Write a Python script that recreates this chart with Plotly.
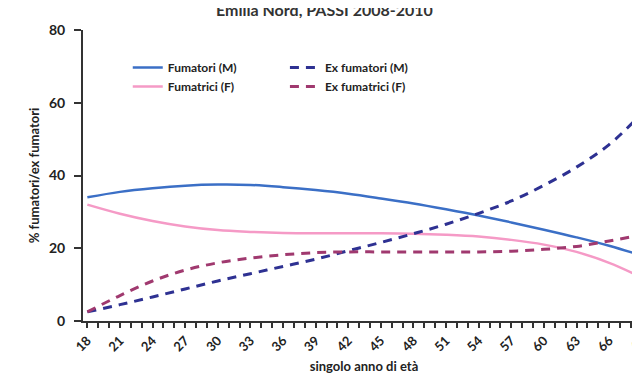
import plotly.graph_objects as go

ages = [18, 21, 24, 27, 30, 33, 36, 39, 42, 45, 48, 51, 54, 57, 60, 63, 66, 69]
fumatori_m = [34, 35.5, 36.5, 37.2, 37.5, 37.4, 36.8, 36, 35, 33.7, 32.3, 30.7, 29, 27.1, 25.1, 23, 20.7, 18]
fumatrici_f = [32, 29.5, 27.5, 26, 25, 24.5, 24.2, 24.1, 24.1, 24.1, 24, 23.7, 23.2, 22.3, 21, 19, 16, 12]
ex_fumatori_m = [2.5, 4.5, 6.6, 8.8, 11, 13, 15, 17, 19.3, 21.6, 24, 26.6, 29.6, 33, 37.3, 42.3, 48.5, 57]
ex_fumatrici_f = [2.5, 7, 11, 14, 16, 17.3, 18.2, 18.8, 19, 19, 19, 19, 19, 19.2, 19.7, 20.5, 22, 23.7]
tick_labels = [str(a) for a in ages]

FONT = "Lato"
fig = go.Figure()
fig.add_trace(go.Scatter(x=ages, y=fumatori_m, name="Fumatori (M)", mode="lines",
                         line=dict(color="#3B6FC6", width=2.5, shape="spline"), legend="legend"))
fig.add_trace(go.Scatter(x=ages, y=fumatrici_f, name="Fumatrici (F)", mode="lines",
                         line=dict(color="#F59AC6", width=2.5, shape="spline"), legend="legend"))
fig.add_trace(go.Scatter(x=ages, y=ex_fumatori_m, name="Ex fumatori (M)", mode="lines",
                         line=dict(color="#2E3192", width=3, shape="spline", dash="9px,7px"), legend="legend2"))
fig.add_trace(go.Scatter(x=ages, y=ex_fumatrici_f, name="Ex fumatrici (F)", mode="lines",
                         line=dict(color="#A0396F", width=3, shape="spline", dash="9px,7px"), legend="legend2"))

legend_common = dict(orientation="v", bgcolor="rgba(0,0,0,0)",
                     font=dict(family=FONT, size=12, color="#222", weight="bold"),
                     xref="paper", yref="paper", xanchor="left", yanchor="top", tracegroupgap=0,
                     itemwidth=30)
fig.update_layout(
    width=640, height=381,
    margin=dict(l=75, r=0, t=22, b=68),
    paper_bgcolor="white", plot_bgcolor="white",
    showlegend=True,
    legend=dict(x=(120 - 75) / 565, y=1 - (45 - 22) / 291, **legend_common),
    legend2=dict(x=(278 - 75) / 565, y=1 - (45 - 22) / 291, **legend_common),
    font=dict(family=FONT, color="#222"),
    annotations=[dict(text="<b>Emilia Nord, PASSI 2008-2010</b>", xref="paper", yref="paper",
                      x=(318 - 75) / 565, y=1 + 21 / 291, yanchor="middle", xanchor="center",
                      showarrow=False, font=dict(family=FONT, size=16, color="#333"))],
)
fig.update_xaxes(
    range=[17.6, 69.3], tickmode="array", tickvals=ages, ticktext=tick_labels,
    tickangle=-45, tickfont=dict(family=FONT, size=13, color="#222", weight="bold"),
    ticklabeloverflow="allow",
    ticks="outside", ticklen=5, tickwidth=2, tickcolor="#333",
    minor=dict(dtick=1, tick0=18, ticks="outside", ticklen=5, tickwidth=2, tickcolor="#333"),
    showline=True, linecolor="#333", linewidth=2, showgrid=False, zeroline=False,
    title=dict(text="<b>singolo anno di età</b>", font=dict(family=FONT, size=13, color="#222"), standoff=8),
)
fig.update_yaxes(
    range=[0, 80], tickvals=[0, 20, 40, 60, 80],
    tickfont=dict(family=FONT, size=14, color="#222", weight="bold"),
    ticks="outside", ticklen=7, tickwidth=2, tickcolor="#333", ticklabelstandoff=6,
    showline=True, linecolor="#333", linewidth=2, showgrid=False, zeroline=False,
    title=dict(text="<b>% fumatori/ex fumatori</b>", font=dict(family=FONT, size=13, color="#222"), standoff=6),
)
fig.write_html("out.html")
